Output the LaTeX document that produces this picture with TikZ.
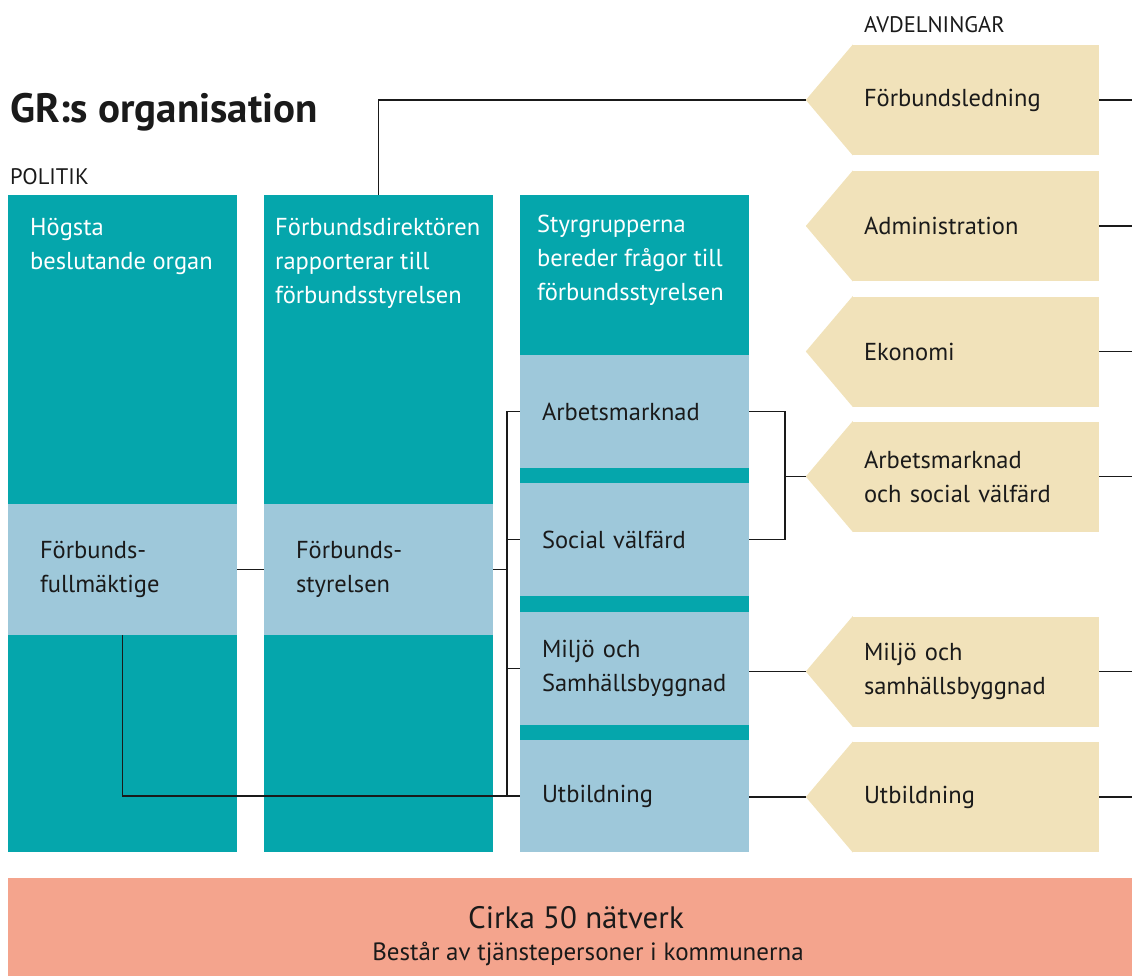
\documentclass[tikz,border=0pt]{standalone}
\usepackage{fontspec}
\setmainfont{PT Sans}
\usetikzlibrary{positioning}

\definecolor{grteal}{HTML}{05A6AC}
\definecolor{grblue}{HTML}{9EC8DA}
\definecolor{grbeige}{HTML}{F1E2BA}
\definecolor{grsalmon}{HTML}{F4A48D}
\definecolor{grink}{HTML}{1A1A1A}

\begin{document}
\begin{tikzpicture}[x=1pt,y=-1pt,font=\fontsize{24.5}{34}\selectfont,text=grink]
        % Setup the styles for columns, bands and departments
        \tikzset{col style/.style={fill=grteal, anchor=north west, inner sep=0,
                                   minimum width=229, minimum height=657},
                 band style/.style={fill=grblue, inner ysep=0, inner xsep=32,
                                    text width=165, minimum height=131, align=left},
                 group style/.style={band style, inner xsep=22, text width=185,
                                     minimum height=113},
                 avd style/.style={fill=grbeige, inner ysep=0, inner xsep=11,
                                   text width=224, minimum height=110, align=left},
                 head style/.style={anchor=base west, inner sep=0, align=left},
                 caps/.style={font=\fontsize{22.5}{26}\selectfont},
                 link/.style={draw=grink, line width=1.2pt}}
        \useasboundingbox (0,0) rectangle (1132,976);

        % Headings
        \node[head style, font=\fontsize{41}{44}\selectfont\bfseries] (title) at (10,123) {GR:s organisation};
        \node[head style, caps] (politik) at (10,185) {POLITIK};
        \node[head style, caps] (avdelningar) at (864,33) {AVDELNINGAR};

        % Draw the three columns (text anchored on its last line)
        \node[col style] (hogsta) at (8,195) {};
        \node[col style] (direktor) at (264,195) {};
        \node[col style] (styrgrupp) at (520,195) {};
        \node[head style, text=white] at (30,270) {Högsta\\beslutande organ};
        \node[head style, text=white] at (275,303) {Förbundsdirektören\\rapporterar till\\förbundsstyrelsen};
        \node[head style, text=white] at (537,301) {Styrgrupperna\\bereder frågor till\\förbundsstyrelsen};

        % Light bands inside the columns
        \node[band style] (fullmaktige) at (122.5,569.5) {Förbunds-\\fullmäktige};
        \node[band style] (styrelsen) at (378.5,569.5) {Förbunds-\\styrelsen};
        \node[group style] (arbete) at (634.5,411.5) {Arbetsmarknad};
        \node[group style] (social) at (634.5,539.5) {Social välfärd};
        \node[group style] (miljo) at (634.5,668.5) {Miljö och\\Samhällsbyggnad};
        \node[group style, minimum height=112] (utbildning) at (634.5,796) {Utbildning};

        % Departments, each with its pointer and a line out to the edge
        \coordinate (edge) at (1132,0);
        \foreach \y/\name/\txt in {100/ledning/Förbundsledning,
                                   226/admin/Administration,
                                   351.5/ekonomi/Ekonomi,
                                   476.5/arbsoc/{Arbetsmarknad\\och social välfärd},
                                   671.5/samhall/{Miljö och\\samhällsbyggnad},
                                   797/utb/Utbildning} {
            \node[avd style] (\name) at (976,\y) {\txt};
            \coordinate (\name-tip) at ([xshift=-47]\name.west);
            \fill[grbeige] ([yshift=0.3]\name.north west) -- (\name-tip)
                -- ([yshift=-0.3]\name.south west) -- cycle;
            \draw[link] (\name.east) -- (\name.east -| edge);
        }

        % Bottom network bar
        \node[fill=grsalmon, anchor=north west, inner sep=0,
              minimum width=1124, minimum height=98] (natverk) at (8,878) {};
        \node[anchor=base, font=\fontsize{31}{34}\selectfont] (cirka) at (576,928) {Cirka 50 nätverk};
        \node[anchor=base, font=\fontsize{25}{28}\selectfont] (bestar) at (588,960) {Består av tjänstepersoner i kommunerna};

        % Connect the boxes
        \coordinate (bus) at (507,0);
        \coordinate (knee) at (785,0);
        \draw[link] (ledning-tip) -| (direktor.north);
        \draw[link] (fullmaktige.east) -- (styrelsen.west);
        \draw[link] (styrelsen.east) -- (styrelsen.east -| bus);
        \draw[link] (arbete.west) -- (arbete.west -| bus) -- (utbildning.west -| bus) -- (utbildning.west);
        \draw[link] (social.west) -- (social.west -| bus);
        \draw[link] (miljo.west) -- (miljo.west -| bus);
        \draw[link] (fullmaktige.south) |- (utbildning.west);
        \draw[link] (arbete.east) -- (arbete.east -| knee) -- (social.east -| knee) -- (social.east);
        \draw[link] (arbsoc-tip) -- (arbsoc-tip -| knee);
        \draw[link] (samhall-tip) -- (samhall-tip -| miljo.east);
        \draw[link] (utb-tip) -- (utb-tip -| utbildning.east);
\end{tikzpicture}
\end{document}
